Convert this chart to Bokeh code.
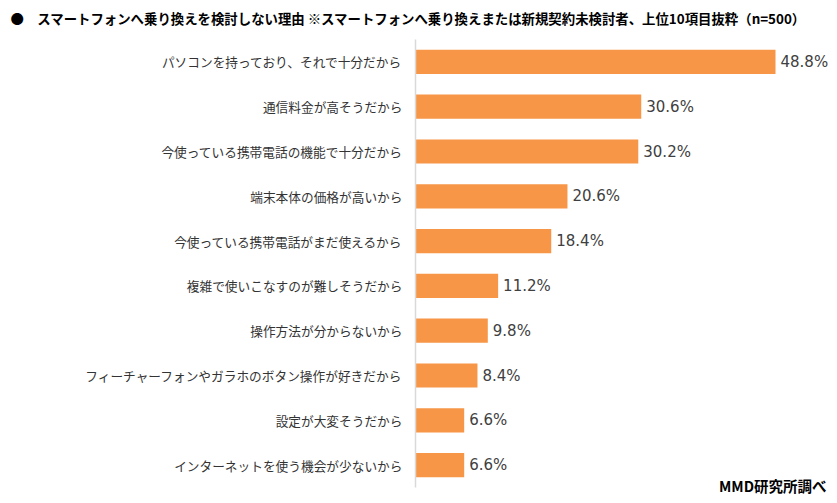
from bokeh.plotting import figure
from bokeh.models import ColumnDataSource, Range1d, Label, FixedTicker
from bokeh.core.properties import value
from bokeh.embed import file_html
from bokeh.resources import INLINE

title_text = "●　スマートフォンへ乗り換えを検討しない理由  ※スマートフォンへ乗り換えまたは新規契約未検討者、上位10項目抜粋（n=500）"
source_text = "MMD研究所調べ"

categories = [
    "パソコンを持っており、それで十分だから",
    "通信料金が高そうだから",
    "今使っている携帯電話の機能で十分だから",
    "端末本体の価格が高いから",
    "今使っている携帯電話がまだ使えるから",
    "複雑で使いこなすのが難しそうだから",
    "操作方法が分からないから",
    "フィーチャーフォンやガラホのボタン操作が好きだから",
    "設定が大変そうだから",
    "インターネットを使う機会が少ないから",
]
values = [48.8, 30.6, 30.2, 20.6, 18.4, 11.2, 9.8, 8.4, 6.6, 6.6]

n = len(categories)
pos = [n - 1 - i for i in range(n)]  # first category on top

W, H = 837, 503
FL, FT = 415, 30
STEP = 44.8  # pixels per category
AX_TOP, AX_BOT = 39, 487  # axis line extent on the canvas
y_top = (n - 0.5) + (AX_TOP - FT) / STEP
y_bot = -0.5 - (H - AX_BOT) / STEP

src = ColumnDataSource(dict(
    y=pos,
    val=values,
    lab=["%.1f%%" % v for v in values],
))

p = figure(width=W, height=H, output_backend="svg", toolbar_location=None,
           y_range=Range1d(y_bot, y_top),
           x_range=Range1d(0, 56.12),
           min_border_left=FL, min_border_right=8, min_border_top=FT, min_border_bottom=0)
p.outline_line_color = None
p.xgrid.visible = False
p.ygrid.visible = False
p.xaxis.visible = False

p.title.text = title_text
p.title.text_font = "Noto Sans CJK JP"
p.title.text_font_size = "13.4px"
p.title.text_font_style = "bold"
p.title.text_color = "#000000"
p.title.align = "left"
p.title.offset = 10 - FL
p.title.standoff = 6

p.hbar(y="y", right="val", left=0, height=0.54, source=src,
       fill_color="#F79646", line_color=None)
p.text(x="val", y="y", text="lab", source=src, x_offset=5,
       text_align="left", text_baseline="middle",
       text_font=value("DejaVu Sans"), text_font_size="15px", text_color="#404040")

ax = p.yaxis[0]
ax.ticker = FixedTicker(ticks=pos)
ax.major_label_overrides = {pp: c for pp, c in zip(pos, categories)}
ax.bounds = (-0.5, n - 0.5)
ax.axis_line_color = "#D9D9D9"
ax.axis_line_width = 1.5
ax.major_tick_line_color = None
ax.minor_tick_line_color = None
ax.major_tick_out = 0
ax.major_tick_in = 0
ax.minor_tick_out = 0
ax.minor_tick_in = 0
ax.major_label_standoff = 13
ax.major_label_text_font = "Noto Sans CJK JP"
ax.major_label_text_font_size = "12.7px"
ax.major_label_text_color = "#333333"

p.add_layout(Label(x=826 - FL, y=H - 485, x_units="screen", y_units="screen", text=source_text,
                   text_font="Noto Sans CJK JP", text_font_size="14.5px", text_font_style="bold",
                   text_color="#000000", text_baseline="middle", text_align="right"))

open("out.html", "w").write(file_html(p, INLINE))
